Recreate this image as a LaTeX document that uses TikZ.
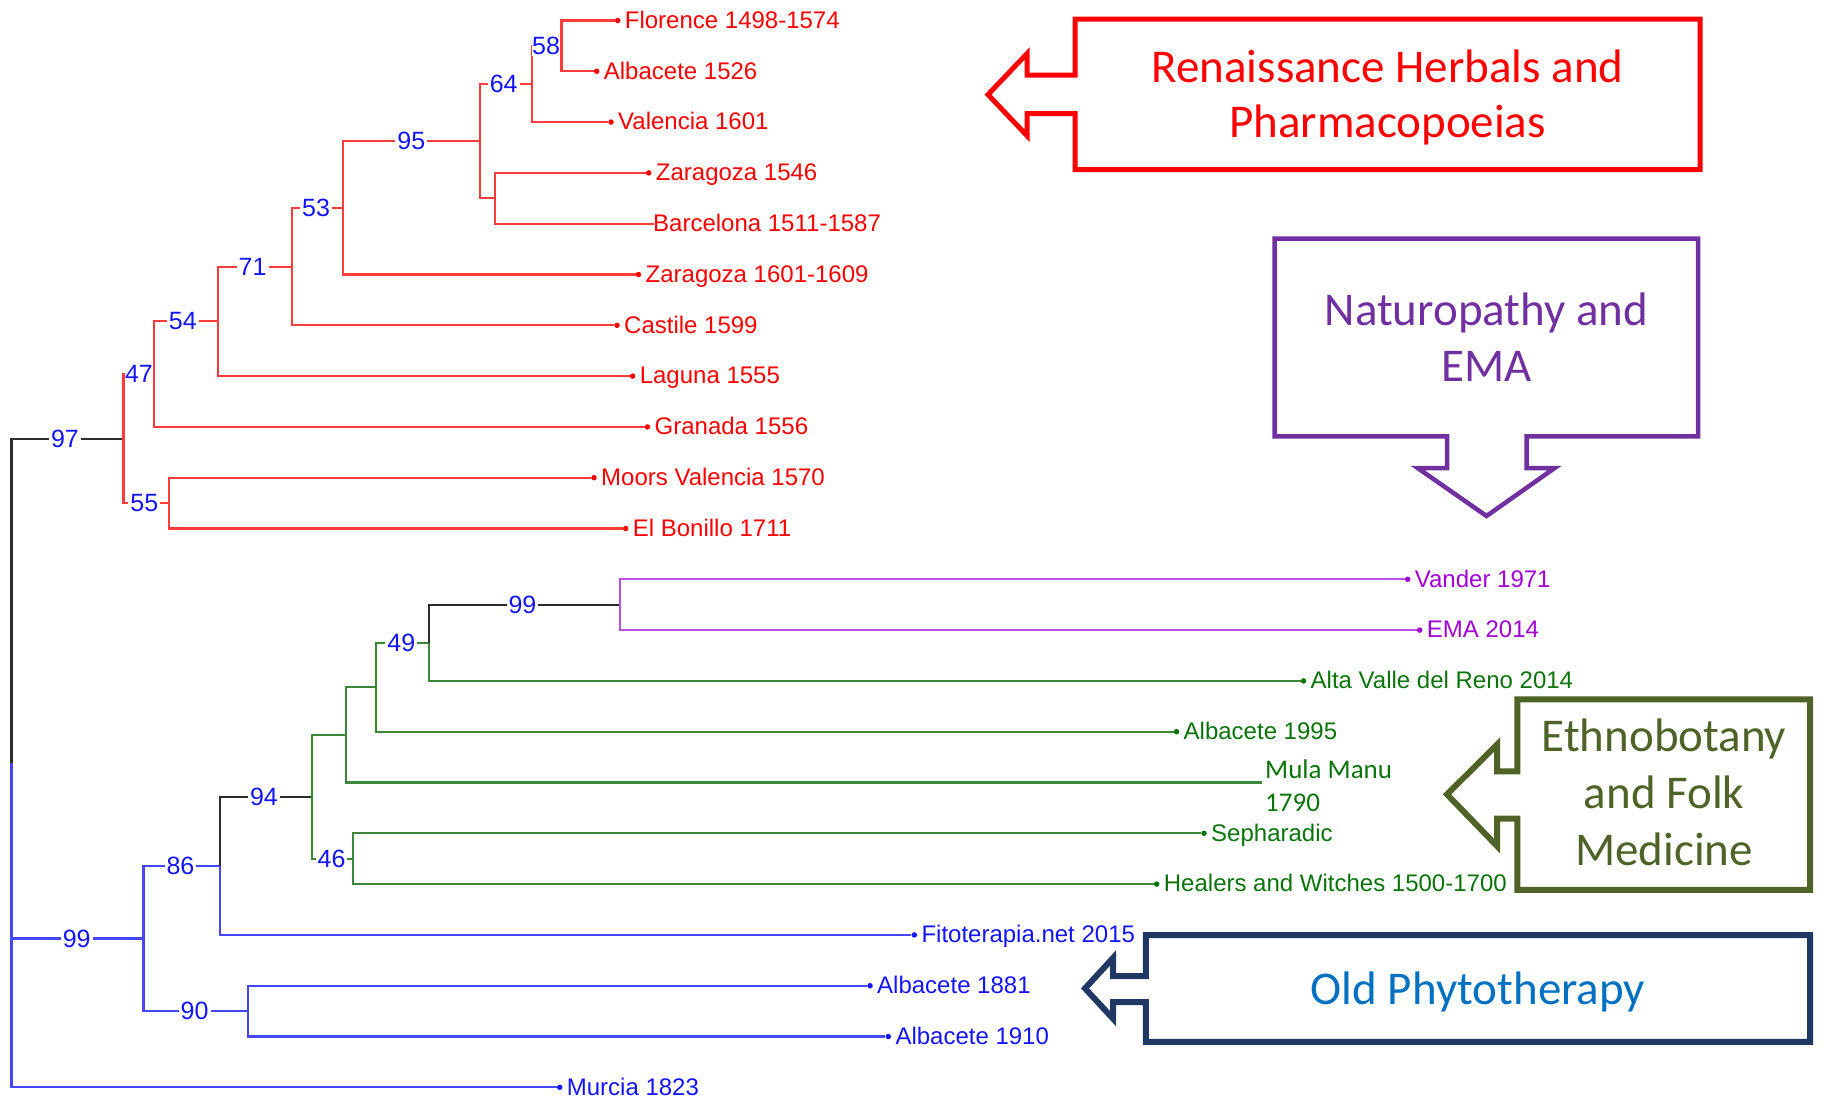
\documentclass[tikz,border=0pt]{standalone}
\usepackage{fontspec}
\setmainfont{Liberation Sans}
\newfontfamily\calibri{Carlito}
\definecolor{rline}{RGB}{255,60,60}
\definecolor{rtext}{RGB}{255,0,0}
\definecolor{bline}{RGB}{70,70,255}
\definecolor{btext}{RGB}{20,20,255}
\definecolor{pline}{RGB}{190,80,225}
\definecolor{ptext}{RGB}{160,0,210}
\definecolor{gline}{RGB}{60,135,60}
\definecolor{gtext}{RGB}{10,115,10}
\definecolor{kline}{RGB}{45,45,45}
\definecolor{boxred}{RGB}{255,0,0}
\definecolor{boxpurple}{RGB}{112,48,160}
\definecolor{boxolive}{RGB}{79,98,40}
\definecolor{boxnavy}{RGB}{31,56,100}
\definecolor{oldblue}{RGB}{0,112,192}
\tikzset{
  branch/.style={line width=2.2pt,#1},
  leafdot/.style={circle,inner sep=0pt,minimum size=5.5pt,fill=#1},
  leaflab/.style={anchor=base west,inner sep=0pt,font=\fontsize{24}{28}\selectfont,text=#1},
  bs/.style={fill=white,inner xsep=2pt,inner ysep=1pt,font=\fontsize{25}{30}\selectfont,text=btext},
  callout/.style={line width=#1,line join=miter},
  boxtext/.style={anchor=base,inner sep=0pt,font=\calibri\fontsize{47}{56}\selectfont,text=#1}
}
\begin{document}
\begin{tikzpicture}[x=1pt,y=-1pt]
\useasboundingbox (0,0) rectangle (1822,1098);
% internal nodes
\coordinate (R) at (11.5,763);
\coordinate (A) at (123.4,438.6);
\coordinate (B) at (154,374.1);
\coordinate (C) at (218,321.3);
\coordinate (D) at (291.6,266.6);
\coordinate (E) at (343.3,207.8);
\coordinate (F) at (480,141.2);
\coordinate (G) at (531.6,84.0);
\coordinate (H) at (561.4,45.9);
\coordinate (I) at (494.8,198.3);
\coordinate (J) at (169.3,503.1);
\coordinate (K) at (143.5,938.5);
\coordinate (L) at (219.9,865.9);
\coordinate (M) at (248,1011.1);
\coordinate (N) at (311.7,796.8);
\coordinate (O) at (346,734.9);
\coordinate (P) at (353,858.7);
\coordinate (Q) at (376,687.3);
\coordinate (S) at (428.8,642.8);
\coordinate (T) at (620,604.7);
% leaves
\node[leafdot=rtext] (l1) at (617.7,20.5) {};
\node[leafdot=rtext] (l2) at (596.7,71.3) {};
\node[leafdot=rtext] (l3) at (611,122.1) {};
\node[leafdot=rtext] (l4) at (648.7,172.9) {};
\coordinate (l5) at (654,223.7);
\node[leafdot=rtext] (l6) at (638.5,274.5) {};
\node[leafdot=rtext] (l7) at (617,325.3) {};
\node[leafdot=rtext] (l8) at (632.6,376.1) {};
\node[leafdot=rtext] (l9) at (647.5,426.9) {};
\node[leafdot=rtext] (l10) at (594,477.7) {};
\node[leafdot=rtext] (l11) at (625.7,528.5) {};
\node[leafdot=ptext] (l12) at (1407.7,579.3) {};
\node[leafdot=ptext] (l13) at (1419.7,630.1) {};
\node[leafdot=gtext] (l14) at (1303.5,680.9) {};
\node[leafdot=gtext] (l15) at (1176.5,731.7) {};
\coordinate (l16) at (1262,782.5);
\node[leafdot=gtext] (l17) at (1204,833.3) {};
\node[leafdot=gtext] (l18) at (1156.7,884.1) {};
\node[leafdot=btext] (l19) at (914.3,934.9) {};
\node[leafdot=btext] (l20) at (870,985.7) {};
\node[leafdot=btext] (l21) at (888.3,1036.5) {};
\node[leafdot=btext] (l22) at (559.7,1087.3) {};
% connectors
\draw[branch=kline] (R) |- (A);
\draw[branch=bline] (R) |- (K);
\draw[branch=bline] (R) |- (l22);
\draw[branch=rline] (A) |- (B);
\draw[branch=rline] (A) |- (J);
\draw[branch=rline] (B) |- (C);
\draw[branch=rline] (B) |- (l9);
\draw[branch=rline] (C) |- (D);
\draw[branch=rline] (C) |- (l8);
\draw[branch=rline] (D) |- (E);
\draw[branch=rline] (D) |- (l7);
\draw[branch=rline] (E) |- (F);
\draw[branch=rline] (E) |- (l6);
\draw[branch=rline] (F) |- (G);
\draw[branch=rline] (F) |- (I);
\draw[branch=rline] (G) |- (H);
\draw[branch=rline] (G) |- (l3);
\draw[branch=rline] (H) |- (l1);
\draw[branch=rline] (H) |- (l2);
\draw[branch=rline] (I) |- (l4);
\draw[branch=rline] (I) |- (l5);
\draw[branch=rline] (J) |- (l10);
\draw[branch=rline] (J) |- (l11);
\draw[branch=bline] (K) |- (L);
\draw[branch=bline] (K) |- (M);
\draw[branch=kline] (L) |- (N);
\draw[branch=bline] (L) |- (l19);
\draw[branch=bline] (M) |- (l20);
\draw[branch=bline] (M) |- (l21);
\draw[branch=gline] (N) |- (O);
\draw[branch=gline] (N) |- (P);
\draw[branch=gline] (O) |- (Q);
\draw[branch=gline] (O) |- (l16);
\draw[branch=gline] (P) |- (l17);
\draw[branch=gline] (P) |- (l18);
\draw[branch=gline] (Q) |- (S);
\draw[branch=gline] (Q) |- (l15);
\draw[branch=kline] (S) |- (T);
\draw[branch=gline] (S) |- (l14);
\draw[branch=pline] (T) |- (l12);
\draw[branch=pline] (T) |- (l13);
% bootstrap values
\node[bs] (b97) at (65,438.6) {97};
\node[bs,inner xsep=0pt] (b47) at (139,374.1) {47};
\node[bs] (b54) at (182.8,321.3) {54};
\node[bs] (b71) at (252.6,266.6) {71};
\node[bs] (b53) at (316,207.8) {53};
\node[bs] (b95) at (411.3,141.2) {95};
\node[bs] (b64) at (503.7,84.0) {64};
\node[bs,inner xsep=0pt] (b58) at (546,45.9) {58};
\node[bs] (b55) at (144.4,503.1) {55};
\node[bs] (b99a) at (76.7,938.5) {99};
\node[bs] (b86) at (180.5,865.9) {86};
\node[bs] (b90) at (194.6,1011.1) {90};
\node[bs] (b94) at (264,796.8) {94};
\node[bs] (b46) at (331.5,858.7) {46};
\node[bs] (b49) at (401.3,642.8) {49};
\node[bs] (b99b) at (522.4,604.7) {99};
% leaf labels
\node[leaflab=rtext] (t1) at (624.7,28.3) {Florence 1498-1574};
\node[leaflab=rtext] (t2) at (603.7,79.1) {Albacete 1526};
\node[leaflab=rtext] (t3) at (618,129.9) {Valencia 1601};
\node[leaflab=rtext] (t4) at (655.7,180.7) {Zaragoza 1546};
\node[leaflab=rtext] (t5) at (653,231.5) {Barcelona 1511-1587};
\node[leaflab=rtext] (t6) at (645.5,282.3) {Zaragoza 1601-1609};
\node[leaflab=rtext] (t7) at (624,333.1) {Castile 1599};
\node[leaflab=rtext] (t8) at (639.6,383.9) {Laguna 1555};
\node[leaflab=rtext] (t9) at (654.5,434.7) {Granada 1556};
\node[leaflab=rtext] (t10) at (601,485.5) {Moors Valencia 1570};
\node[leaflab=rtext] (t11) at (632.7,536.3) {El Bonillo 1711};
\node[leaflab=ptext] (t12) at (1414.7,587.1) {Vander 1971};
\node[leaflab=ptext] (t13) at (1426.7,637.9) {EMA 2014};
\node[leaflab=gtext] (t14) at (1310.5,688.7) {Alta Valle del Reno 2014};
\node[leaflab=gtext] (t15) at (1183.5,739.5) {Albacete 1995};
\node[leaflab=gtext,font=\calibri\fontsize{27}{32}\selectfont] (t16a) at (1265,778.3) {Mula Manu};
\node[leaflab=gtext,font=\calibri\fontsize{27}{32}\selectfont] (t16b) at (1265,811) {1790};
\node[leaflab=gtext] (t17) at (1211,841.1) {Sepharadic};
\node[leaflab=gtext] (t18) at (1163.7,891.9) {Healers and Witches 1500-1700};
\node[leaflab=btext] (t19) at (921.3,942.7) {Fitoterapia.net 2015};
\node[leaflab=btext] (t20) at (877,993.5) {Albacete 1881};
\node[leaflab=btext] (t21) at (895.3,1044.3) {Albacete 1910};
\node[leaflab=btext] (t22) at (566.7,1095.1) {Murcia 1823};
% callouts
\draw[callout=5pt,boxred] (1075,19) -- (1700,19) -- (1700,169.6) -- (1075,169.6) -- (1075,113.6) -- (1027,113.6) -- (1027,135.7) -- (988,94.6) -- (1027,53.6) -- (1027,75) -- (1075,75) -- cycle;
\node[boxtext=boxred] (ren1) at (1387.5,82.1) {Renaissance Herbals and};
\node[boxtext=boxred] (ren2) at (1387.5,137.5) {Pharmacopoeias};
\draw[callout=4.5pt,boxpurple] (1274.7,238.6) -- (1698,238.6) -- (1698,436.4) -- (1526.5,436.4) -- (1526.5,468) -- (1554.7,468) -- (1486.5,516) -- (1417.6,468) -- (1447,468) -- (1447,436.4) -- (1274.7,436.4) -- cycle;
\node[boxtext=boxpurple] (nat1) at (1486.4,325) {Naturopathy and};
\node[boxtext=boxpurple] (nat2) at (1486.4,381.4) {EMA};
\draw[callout=6pt,boxolive] (1517.4,699.4) -- (1810,699.4) -- (1810,889.8) -- (1517.4,889.8) -- (1517.4,818.6) -- (1497,818.6) -- (1497,846) -- (1447,794.4) -- (1497,744.6) -- (1497,771.3) -- (1517.4,771.3) -- cycle;
\node[boxtext=boxolive] (eth1) at (1664,751.7) {Ethnobotany};
\node[boxtext=boxolive] (eth2) at (1664,808.7) {and Folk};
\node[boxtext=boxolive] (eth3) at (1664,865.6) {Medicine};
\draw[callout=6pt,boxnavy] (1145.8,935) -- (1810,935) -- (1810,1041.8) -- (1145.8,1041.8) -- (1145.8,1002) -- (1113,1002) -- (1113,1018.6) -- (1085,988.4) -- (1113,958) -- (1113,976) -- (1145.8,976) -- cycle;
\node[boxtext=oldblue] (old) at (1478,1004.4) {Old Phytotherapy};
\end{tikzpicture}
\end{document}
